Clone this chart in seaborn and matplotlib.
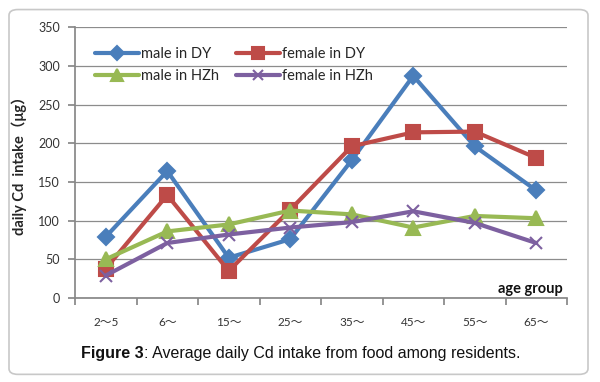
import numpy as np
import pandas as pd
import matplotlib
matplotlib.use("Agg")
import matplotlib.pyplot as plt
import seaborn as sns
from matplotlib.patches import FancyBboxPatch

categories = ["2～5", "6～", "15～", "25～", "35～", "45～", "55～", "65～"]
male_dy = [79, 164, 52, 76, 178, 287, 196, 139]
female_dy = [38, 133, 35, 114, 196, 214, 215, 181]
male_hzh = [50, 86, 95, 113, 108, 91, 106, 103]
female_hzh = [29, 71, 82, 91, 98, 112, 97, 71]
series_names = ["male in DY", "female in DY", "male in HZh", "female in HZh"]
yticks = [0, 50, 100, 150, 200, 250, 300, 350]

rows = []
for name, vals in zip(series_names, [male_dy, female_dy, male_hzh, female_hzh]):
    for i, v in enumerate(vals):
        rows.append({"pos": i, "value": v, "series": name})
df = pd.DataFrame(rows)

sns.set_theme(style="white")
plt.rcParams['font.family'] = ['Lato', 'Noto Sans CJK SC', 'DejaVu Sans']

fig = plt.figure(figsize=(6, 3.82), dpi=100)
fig.patch.set_facecolor("white")
box = FancyBboxPatch((0.015, 0.02), 0.965, 0.955, boxstyle="round,pad=0,rounding_size=0.015",
                     transform=fig.transFigure, facecolor="white", edgecolor="#c8c8c8",
                     linewidth=1.2, zorder=-10)
fig.patches.append(box)

ax = fig.add_axes([0.125, 0.22, 0.82, 0.709])
ax.set_zorder(5)
ax.patch.set_alpha(0)
palette = {"male in DY": "#4A7EBB", "female in DY": "#BE4B48",
           "male in HZh": "#98B954", "female in HZh": "#7D60A0"}
markers = {"male in DY": "D", "female in DY": "s", "male in HZh": "^", "female in HZh": "x"}
msizes = {"male in DY": 8, "female in DY": 10, "male in HZh": 10, "female in HZh": 9}

for name in series_names:
    sub = df[df.series == name]
    sns.lineplot(data=sub, x="pos", y="value", ax=ax, color=palette[name], marker=markers[name],
                 markersize=msizes[name], linewidth=3, label=name,
                 markeredgecolor=palette[name], markeredgewidth=1.5)

ax.set_xlim(-0.5, 7.5)
ax.set_ylim(0, 350)
ax.set_yticks(yticks)
ax.set_yticklabels([str(t) for t in yticks], fontsize=9, color="#333333")
ax.set_xticks(np.arange(-0.5, 8, 1))
ax.set_xticklabels([])
ax.set_xticks(np.arange(8), minor=True)
ax.set_xticklabels(categories, minor=True, fontsize=8.5, color="#333333")
ax.tick_params(axis="x", which="major", length=5, color="#888888", direction="out", bottom=True)
ax.tick_params(axis="x", which="minor", length=0, pad=14)
ax.tick_params(axis="y", length=5, color="#888888", direction="out", left=True, pad=6)
ax.grid(axis="y", color="#8c8c8c", linewidth=0.9)
ax.set_axisbelow(True)
for s in ["top", "right"]:
    ax.spines[s].set_visible(False)
ax.spines["left"].set_color("#888888")
ax.spines["bottom"].set_color("#888888")
ax.set_xlabel("")
ax.set_ylabel("daily Cd  intake（μg）", fontsize=10.5, fontweight="bold",
              family=["Lato", "Noto Sans CJK SC", "DejaVu Sans"], labelpad=8)
ax.text(7.43, 3, "age group", ha="right", va="bottom", fontsize=10.5, fontweight="bold", color="#111111")

handles, labels = ax.get_legend_handles_labels()
order = [0, 2, 1, 3]
ax.legend([handles[i] for i in order], [labels[i] for i in order],
          loc="upper left", bbox_to_anchor=(0.02, 0.965), ncol=2, frameon=False, fontsize=10.5,
          handlelength=3.0, columnspacing=1.2, handletextpad=0.15, labelspacing=0.55,
          borderaxespad=0.3, markerscale=0.85)

t1 = fig.text(0.135, 0.075, "Figure 3", ha="left", va="center", fontsize=11.5, fontweight="bold",
              family="Liberation Sans", color="#111111")
fig.canvas.draw()
bb = t1.get_window_extent().transformed(fig.transFigure.inverted())
fig.text(bb.x1, 0.075, ": Average daily Cd intake from food among residents.", ha="left", va="center",
         fontsize=11.5, family="Liberation Sans", color="#111111")

fig.savefig("out.png", dpi=100)
